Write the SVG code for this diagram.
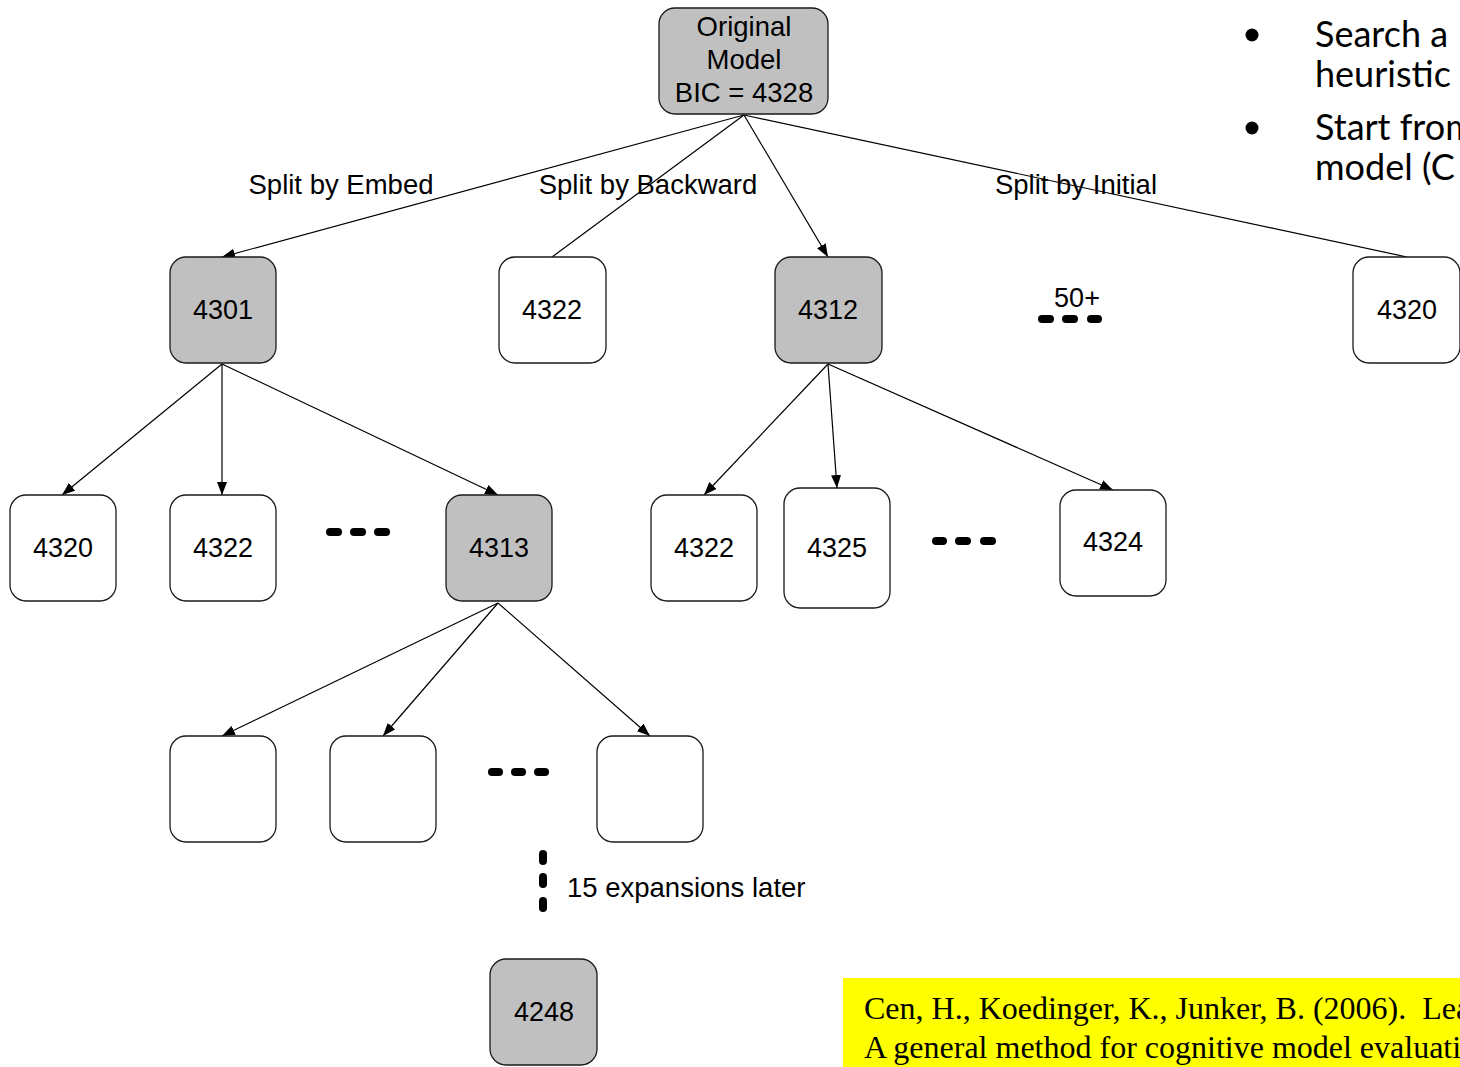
<svg xmlns="http://www.w3.org/2000/svg" width="1460" height="1067" viewBox="0 0 1460 1067">
<style>
.node rect{stroke:#1a1a1a;stroke-width:1.3}
.g rect{fill:#c0c0c0}
.w rect{fill:#ffffff}
.lbl{font-family:"Liberation Sans",Arial,sans-serif;font-size:27px;fill:#000;text-anchor:middle}
.big{font-size:27.5px}
.edge{stroke:#000;stroke-width:1.2;fill:none}
.dot{stroke:#000;stroke-width:8;stroke-linecap:round}
.side{font-family:Lato,"Open Sans",sans-serif;font-size:36px;fill:#000}
.ref{font-family:"Liberation Serif","Times New Roman",serif;font-size:32px;fill:#000}
</style>
<defs>
<marker id="arr" markerUnits="userSpaceOnUse" markerWidth="14" markerHeight="10" refX="13" refY="5" orient="auto">
<path d="M0,0 L13,5 L0,10 Z" fill="#000"/>
</marker>
</defs>
<rect width="1460" height="1067" fill="#fff"/>

<g id="connectors">
<line class="edge" x1="744" y1="115" x2="222" y2="257" marker-end="url(#arr)"/>
<line class="edge" x1="744" y1="115" x2="552" y2="257"/>
<line class="edge" x1="744" y1="115" x2="828" y2="257" marker-end="url(#arr)"/>
<line class="edge" x1="744" y1="115" x2="1407" y2="257"/>
<line class="edge" x1="222" y1="364" x2="62" y2="495" marker-end="url(#arr)"/>
<line class="edge" x1="222" y1="364" x2="222" y2="495" marker-end="url(#arr)"/>
<line class="edge" x1="222" y1="364" x2="498" y2="495" marker-end="url(#arr)"/>
<line class="edge" x1="828" y1="364" x2="704" y2="495" marker-end="url(#arr)"/>
<line class="edge" x1="828" y1="364" x2="837" y2="488" marker-end="url(#arr)"/>
<line class="edge" x1="828" y1="364" x2="1113" y2="490" marker-end="url(#arr)"/>
<line class="edge" x1="498" y1="603" x2="222" y2="736" marker-end="url(#arr)"/>
<line class="edge" x1="498" y1="603" x2="383" y2="736" marker-end="url(#arr)"/>
<line class="edge" x1="498" y1="603" x2="650" y2="736" marker-end="url(#arr)"/>
</g>

<g id="edge-labels">
<text class="lbl big" x="341" y="194">Split by Embed</text>
<text class="lbl big" x="648" y="194">Split by Backward</text>
<text class="lbl big" x="1076" y="194">Split by Initial</text>
</g>

<g id="root" class="node g">
<rect x="659" y="8" width="169" height="106" rx="16"/>
<text class="lbl big" x="744" y="36">Original</text>
<text class="lbl big" x="744" y="69">Model</text>
<text class="lbl big" x="744" y="102">BIC = 4328</text>
</g>

<g id="n4301" class="node g"><rect x="170" y="257" width="106" height="106" rx="16"/><text class="lbl" x="223" y="319">4301</text></g>
<g id="n4322a" class="node w"><rect x="499" y="257" width="107" height="106" rx="16"/><text class="lbl" x="552" y="319">4322</text></g>
<g id="n4312" class="node g"><rect x="775" y="257" width="107" height="106" rx="16"/><text class="lbl" x="828" y="319">4312</text></g>
<g id="n4320a" class="node w"><rect x="1353" y="257" width="107" height="106" rx="16"/><text class="lbl" x="1407" y="319">4320</text></g>

<g id="more50">
<text class="lbl" x="1077" y="307">50+</text>
<line class="dot" x1="1042" y1="319" x2="1050" y2="319"/>
<line class="dot" x1="1066" y1="319" x2="1074" y2="319"/>
<line class="dot" x1="1091" y1="319" x2="1098" y2="319"/>
</g>

<g id="n4320b" class="node w"><rect x="10" y="495" width="106" height="106" rx="16"/><text class="lbl" x="63" y="557">4320</text></g>
<g id="n4322b" class="node w"><rect x="170" y="495" width="106" height="106" rx="16"/><text class="lbl" x="223" y="557">4322</text></g>
<g id="more1">
<line class="dot" x1="330" y1="532" x2="338" y2="532"/>
<line class="dot" x1="354" y1="532" x2="362" y2="532"/>
<line class="dot" x1="378" y1="532" x2="386" y2="532"/>
</g>
<g id="n4313" class="node g"><rect x="446" y="495" width="106" height="106" rx="16"/><text class="lbl" x="499" y="557">4313</text></g>
<g id="n4322c" class="node w"><rect x="651" y="495" width="106" height="106" rx="16"/><text class="lbl" x="704" y="557">4322</text></g>
<g id="n4325" class="node w"><rect x="784" y="488" width="106" height="120" rx="16"/><text class="lbl" x="837" y="557">4325</text></g>
<g id="more2">
<line class="dot" x1="936" y1="541" x2="943" y2="541"/>
<line class="dot" x1="959" y1="541" x2="967" y2="541"/>
<line class="dot" x1="984" y1="541" x2="992" y2="541"/>
</g>
<g id="n4324" class="node w"><rect x="1060" y="490" width="106" height="106" rx="16"/><text class="lbl" x="1113" y="551">4324</text></g>

<g id="e1" class="node w"><rect x="170" y="736" width="106" height="106" rx="16"/></g>
<g id="e2" class="node w"><rect x="330" y="736" width="106" height="106" rx="16"/></g>
<g id="more3">
<line class="dot" x1="492" y1="772" x2="499" y2="772"/>
<line class="dot" x1="515" y1="772" x2="522" y2="772"/>
<line class="dot" x1="538" y1="772" x2="545" y2="772"/>
</g>
<g id="e3" class="node w"><rect x="597" y="736" width="106" height="106" rx="16"/></g>

<g id="later">
<line class="dot" x1="543" y1="854" x2="543" y2="861"/>
<line class="dot" x1="543" y1="877" x2="543" y2="884"/>
<line class="dot" x1="543" y1="901" x2="543" y2="908"/>
<text class="lbl big" x="567" y="897" style="text-anchor:start">15 expansions later</text>
</g>

<g id="n4248" class="node g"><rect x="490" y="959" width="107" height="106" rx="16"/><text class="lbl" x="544" y="1021">4248</text></g>

<g id="bullets">
<circle cx="1252" cy="35" r="6.5" fill="#000"/>
<circle cx="1252" cy="128" r="6.5" fill="#000"/>
<text class="side" x="1315" y="47">Search a</text>
<text class="side" x="1315" y="87">heuristic</text>
<text class="side" x="1315" y="140">Start from</text>
<text class="side" x="1315" y="180">model (C</text>
</g>

<g id="reference">
<rect x="843" y="978" width="617" height="89" fill="#ffff00"/>
<text class="ref" x="864" y="1019" xml:space="preserve">Cen, H., Koedinger, K., Junker, B. (2006).  Learning</text>
<text class="ref" x="864" y="1058">A general method for cognitive model evaluation</text>
</g>
</svg>
